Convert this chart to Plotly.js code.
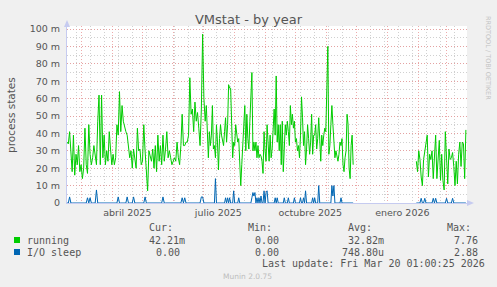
<!DOCTYPE html>
<html>
<head>
<meta charset="utf-8">
<script src="https://cdn.plot.ly/plotly-3.0.1.min.js"></script>
<style>
  html, body { margin: 0; padding: 0; background: #f0f0f0; }
  #chart { width: 497px; height: 287px; }
</style>
</head>
<body>
<div id="chart"></div>
<script>
// ---- data (values in milli-processes, "m") ----
const segAStart = "2025-02-14 17:00:00";
const segAStepHours = 30.7;
const runningA_m = [35,34,41,26,18,39,16,28,22,33,
  18,22,14,20,43,22,17,45,28,22,
  26,33,27,22,47,62,22,62,26,39,
  22,30,24,41,31,22,28,22,26,45,
  39,64,41,56,47,43,41,39,31,26,
  30,20,31,26,20,43,30,31,22,24,
  45,30,14,7,30,26,24,31,20,33,
  18,39,24,33,22,39,24,31,41,26,
  30,26,22,24,26,24,35,26,22,33,
  51,33,33,35,35,39,72,51,54,41,
  58,47,52,43,33,54,97,60,47];
const ioSleepA_m = [0,0,3.5,0,0,0,0,0,0,0,
  0,0,0,0,0,0,3,0,3,0,
  0,0,0,7.5,0,0,0,0,0,0,
  0,0,0,0,0,0,0,0,0,0,
  3.5,0,0,0,0,0,0,3.5,0,0,
  0,0,3.5,0,0,0,0,0,0,0,
  0,3.5,0,0,0,0,0,0,0,0,
  0,0,0,0,0,3.5,0,0,0,0,
  0,0,0,0,0,0,0,0,0,0,
  3,0,3,0,0,0,0,0,0,0,
  0,0,0,0,0,3.5,3.5,0,0];

const segBStart = "2025-07-04 00:00:00";
const segBStepHours = 24.3;
const runningB_m = [56,35,26,41,33,39,56,31,33,26,
  45,35,19,37,45,39,35,33,41,49,
  35,45,68,66,66,45,26,35,33,45,
  41,35,37,26,10,22,33,45,56,30,
  51,37,31,47,58,75,30,35,30,35,
  26,33,26,28,27,24,17,41,30,24,
  45,35,24,39,26,31,49,54,39,73,
  35,45,30,45,22,47,18,30,45,39,
  47,41,33,56,45,51,43,47,35,37,
  30,33,26,39,61,49,33,41,22,31,
  45,37,28,35,51,28,39,39,45,31,
  37,49,37,24,39,33,39,43,41,66,
  90,28,33,45,56,45,33,26,30,26,
  24,28,35,33,37,22,18,26,30,51,
  45,20,14,33,39,22];
const ioSleepB_m = [0,0,0,0,0,0,0,0,0,14,
  0,0,0,0,0,0,0,0,0,3,
  0,3,0,3,0,0,0,7,0,0,
  0,0,3,0,0,0,0,0,0,0,
  0,0,0,0,0,3,6,4,6,0,
  3,0,3,0,4,0,0,7,0,6,
  7,0,0,0,0,0,0,0,3,0,
  3,0,0,0,0,0,0,3,0,0,
  0,3,0,0,0,0,0,3,0,0,
  0,0,0,3,0,0,3,0,7,0,
  0,0,0,0,0,3,0,3,0,0,
  0,10,0,0,0,0,0,0,0,0,
  0,0,0,0,10,4,10,0,0,0,
  0,0,0,3,0,0,0,0,0,0,
  0,0,0,0,0,0];

const segCStart = "2026-01-30 00:00:00";
const segCStepHours = 29;
const runningC_m = [24,18,30,25,15,10,25,30,36,39,
  15,28,25,30,14,30,39,14,27,36,
  13,28,13,7.5,41,21,11,31,25,26,
  29,21,10,24,11,28,35,21,35,34,
  14,42];
const ioSleepC_m = [0,0,0,0,2.7,0,0,2.7,0,0,
  0,0,0,0,2.7,0,2.7,0,0,0,
  0,0,0,0,0,2.7,0,0,0,0,
  2.7,0,0,0,0,0,0,0,0,0,
  0,0];

const xRange = ["2025-02-14 16:00:00", "2026-03-21 16:00:00"];
const xTickVals = ["2025-04-16", "2025-07-16", "2025-10-16", "2026-01-16"];
const xTickText = ["abril 2025", "julio 2025", "octubre 2025", "enero 2026"];
const yTickVals = [0,10,20,30,40,50,60,70,80,90,100];
const yTickText = ["0","10 m","20 m","30 m","40 m","50 m","60 m","70 m","80 m","90 m","100 m"];

const seriesNames = ["running", "I/O sleep"];
const seriesColors = ["#00cc00", "#0066b3"];
const curVals = ["42.21m", "0.00"];
const minVals = ["0.00", "0.00"];
const avgVals = ["32.82m", "748.80u"];
const maxVals = ["7.76", "2.88"];
const title = "VMstat - by year";
const yTitle = "process states";
const lastUpdate = "Last update: Fri Mar 20 01:00:25 2026";
const footer = "Munin 2.0.75";
const watermark = "RRDTOOL / TOBI OETIKER";

// ---- build time axes ----
function buildDates(start, stepHours, n) {
  const t0 = new Date(start.replace(" ", "T") + "Z").getTime();
  const out = [];
  for (let i = 0; i < n; i++) {
    out.push(new Date(t0 + i * stepHours * 3600000).toISOString().replace("T", " ").slice(0, 19));
  }
  return out;
}
const dA = buildDates(segAStart, segAStepHours, runningA_m.length);
const dB = buildDates(segBStart, segBStepHours, runningB_m.length);
const dC = buildDates(segCStart, segCStepHours, runningC_m.length);
const xs = dA.concat(dB, [dB[dB.length - 1]], dC);
const yRun = runningA_m.concat(runningB_m, [null], runningC_m);
const yIo = ioSleepA_m.concat(ioSleepB_m, [null], ioSleepC_m);

// ---- geometry (pixels) ----
const L = 67, R = 467, T = 26, B = 203;
const px = v => (v - L) / (R - L);
const py = v => (B - v) / (B - T);

const textCol = "#555555";
const mono = "DejaVu Sans Mono, monospace";
const sans = "DejaVu Sans, sans-serif";
const majorGrid = "rgba(232,150,150,0.8)";
const minorGrid = "rgba(200,200,200,0.85)";
const axisCol = "#c6cbf0";

const traces = [
  { x: xs, y: yRun, type: "scatter", mode: "lines", xaxis: "x", yaxis: "y",
    line: { color: seriesColors[0], width: 1 }, connectgaps: false, name: seriesNames[0] },
  { x: xs, y: yIo, type: "scatter", mode: "lines", xaxis: "x2", yaxis: "y",
    line: { color: seriesColors[1], width: 1 }, connectgaps: false, name: seriesNames[1] }
];

const ann = [];
function addText(text, x, y, opts) {
  ann.push(Object.assign({ text: text, x: px(x), y: py(y), xref: "paper", yref: "paper",
    showarrow: false, xanchor: "left", yanchor: "middle", borderpad: 0,
    font: { family: mono, size: 10, color: textCol } }, opts || {}));
}
addText(yTitle, 11, 115, { xanchor: "center", textangle: -90, font: { family: sans, size: 10.5, color: textCol } });
addText(watermark, 488, 58, { xanchor: "center", textangle: 90, font: { family: sans, size: 6.5, color: "#c4c4c4" } });
addText("Cur:", 148, 227.5);
addText("Min:", 247, 227.5);
addText("Avg:", 347, 227.5);
addText("Max:", 446, 227.5);
const rowY = [240, 252];
const curX = [148, 155], minX = [254, 254], avgX = [347, 341], maxX = [453, 453];
for (let i = 0; i < 2; i++) {
  addText(seriesNames[i], 26, rowY[i]);
  addText(curVals[i], curX[i], rowY[i]);
  addText(minVals[i], minX[i], rowY[i]);
  addText(avgVals[i], avgX[i], rowY[i]);
  addText(maxVals[i], maxX[i], rowY[i]);
}
addText(lastUpdate, 261, 263.5);
addText(footer, 247.5, 276, { xanchor: "center", font: { family: sans, size: 7.5, color: "#bdbdbd" } });

const shapes = [];
for (let i = 0; i < 2; i++) {
  shapes.push({ type: "rect", xref: "paper", yref: "paper",
    x0: px(14), x1: px(20), y0: py(rowY[i] - 3), y1: py(rowY[i] + 3),
    fillcolor: seriesColors[i], line: { width: 0 } });
}
// axis arrows
shapes.push({ type: "path", xref: "paper", yref: "paper",
  path: `M ${px(64)} ${py(27)} L ${px(70)} ${py(27)} L ${px(67)} ${py(20)} Z`,
  fillcolor: axisCol, line: { width: 0 } });
shapes.push({ type: "path", xref: "paper", yref: "paper",
  path: `M ${px(467)} ${py(200)} L ${px(467)} ${py(206)} L ${px(474)} ${py(203)} Z`,
  fillcolor: axisCol, line: { width: 0 } });

const layout = {
  width: 497, height: 287,
  margin: { l: L, r: 497 - R, t: T, b: 287 - B, pad: 0 },
  paper_bgcolor: "#f0f0f0",
  plot_bgcolor: "#ffffff",
  showlegend: false,
  title: { text: title, x: 0.5, xref: "container", xanchor: "center",
    y: 1 - 19 / 287, yref: "container", yanchor: "middle",
    font: { family: sans, size: 13, color: textCol } },
  xaxis: {
    type: "date", range: xRange, fixedrange: true,
    tickmode: "linear", tick0: "2025-03-01", dtick: "M1",
    showticklabels: false, ticks: "",
    showgrid: true, gridcolor: majorGrid, griddash: "1px,2px", gridwidth: 1,
    minor: { tickmode: "linear", tick0: "2025-02-24", dtick: 14 * 86400000,
      showgrid: true, gridcolor: minorGrid, griddash: "1px,2px", gridwidth: 1, ticks: "" },
    showline: true, linecolor: axisCol, linewidth: 1, zeroline: false, layer: "below traces"
  },
  xaxis2: {
    type: "date", range: xRange, fixedrange: true, overlaying: "x", anchor: "y", side: "bottom",
    tickmode: "array", tickvals: xTickVals, ticktext: xTickText,
    ticks: "", ticklabelstandoff: 2, showgrid: false, showline: false, zeroline: false,
    tickfont: { family: sans, size: 9.5, color: textCol }
  },
  yaxis: {
    range: [0, (B - T) / 1.74], fixedrange: true,
    tickmode: "array", tickvals: yTickVals, ticktext: yTickText,
    ticks: "", ticklabelstandoff: 4,
    tickfont: { family: sans, size: 9.5, color: textCol },
    showgrid: true, gridcolor: majorGrid, griddash: "1px,2px", gridwidth: 1,
    minor: { tickmode: "linear", tick0: 0, dtick: 5, showgrid: true,
      gridcolor: minorGrid, griddash: "1px,2px", gridwidth: 1, ticks: "" },
    showline: true, linecolor: axisCol, linewidth: 1, zeroline: false, layer: "below traces"
  },
  annotations: ann,
  shapes: shapes
};

Plotly.newPlot("chart", traces, layout, { staticPlot: true, displayModeBar: false });
</script>
</body>
</html>
